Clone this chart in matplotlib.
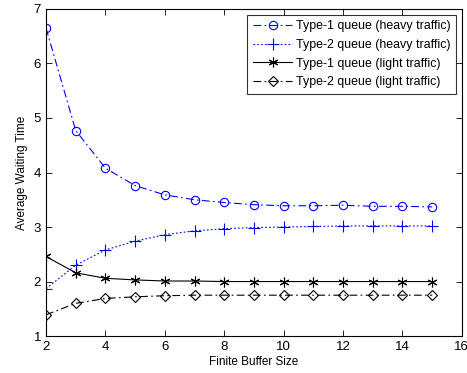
import matplotlib
matplotlib.use("Agg")
import matplotlib.pyplot as plt

buffer_size = [2, 3, 4, 5, 6, 7, 8, 9, 10, 11, 12, 13, 14, 15]
type1_heavy = [6.65, 4.77, 4.08, 3.76, 3.59, 3.50, 3.45, 3.41, 3.39, 3.39, 3.40, 3.38, 3.38, 3.37]
type2_heavy = [1.87, 2.30, 2.58, 2.74, 2.86, 2.93, 2.97, 2.99, 3.00, 3.01, 3.02, 3.02, 3.02, 3.02]
type1_light = [2.46, 2.16, 2.06, 2.03, 2.01, 2.01, 2.00, 2.00, 2.00, 2.00, 2.00, 2.00, 2.00, 2.00]
type2_light = [1.39, 1.60, 1.69, 1.72, 1.74, 1.75, 1.75, 1.75, 1.75, 1.75, 1.75, 1.75, 1.75, 1.75]
labels = ["Type-1 queue (heavy traffic)", "Type-2 queue (heavy traffic)",
          "Type-1 queue (light traffic)", "Type-2 queue (light traffic)"]

plt.rcParams['font.family'] = ['Liberation Sans', 'DejaVu Sans']
fig = plt.figure(figsize=(4.67, 3.73), dpi=100)
ax = fig.add_axes([0.0985, 0.099, 0.8905, 0.877])

lw = 0.8
ax.plot(buffer_size, type1_heavy, color='blue', linestyle=(0, (7, 3, 1.5, 3)), lw=lw,
        marker='o', markersize=6, markerfacecolor='none', markeredgewidth=0.8, label=labels[0])
ax.plot(buffer_size, type2_heavy, color='blue', linestyle=(0, (1.5, 2)), lw=lw,
        marker='+', markersize=8, markeredgewidth=0.8, label=labels[1])
ax.plot(buffer_size, type1_light, color='black', linestyle='-', lw=lw,
        marker=(6, 2, 0), markersize=7, markeredgewidth=0.8, label=labels[2])
ax.plot(buffer_size, type2_light, color='black', linestyle=(0, (7, 3, 1.5, 3)), lw=lw,
        marker='D', markersize=5, markerfacecolor='none', markeredgewidth=0.8, label=labels[3])

ax.set_xlim(2, 16)
ax.set_ylim(1, 7)
ax.set_xticks([2, 4, 6, 8, 10, 12, 14, 16])
ax.set_yticks([1, 2, 3, 4, 5, 6, 7])
ax.tick_params(direction='in', top=True, right=True, labelsize=9.5, length=4, width=0.6)
for s in ax.spines.values():
    s.set_linewidth(0.8)
ax.set_xlabel("Finite Buffer Size", fontsize=8.5, labelpad=2)
ax.set_ylabel("Average Waiting Time", fontsize=8.5, labelpad=4)

leg = ax.legend(loc='upper right', fontsize=8.9, frameon=True, fancybox=False,
                edgecolor='black', borderaxespad=0.45, handlelength=3.2,
                labelspacing=0.55, borderpad=0.45, handletextpad=0.3)
leg.get_frame().set_linewidth(0.8)

fig.savefig("out.png", dpi=100)
